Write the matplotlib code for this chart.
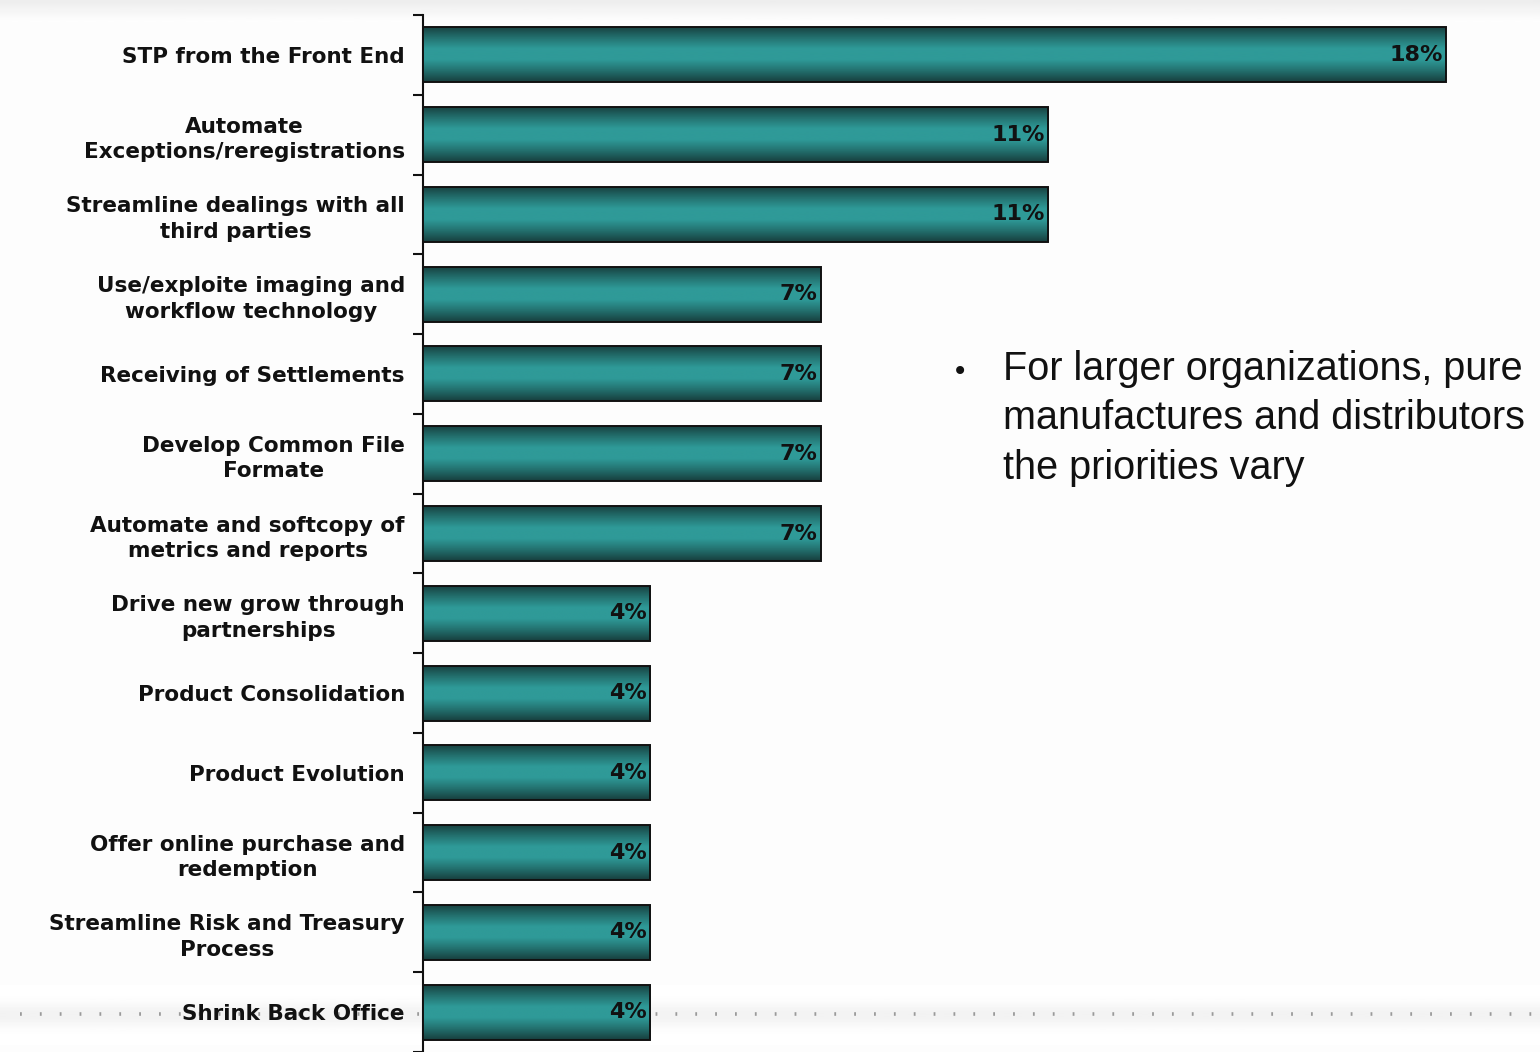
import matplotlib
matplotlib.use("Agg")
import matplotlib.pyplot as plt
import numpy as np
from matplotlib.colors import LinearSegmentedColormap

categories = [
    "STP from the Front End",
    "Automate\nExceptions/reregistrations",
    "Streamline dealings with all\nthird parties",
    "Use/exploite imaging and\nworkflow technology",
    "Receiving of Settlements",
    "Develop Common File\nFormate",
    "Automate and softcopy of\nmetrics and reports",
    "Drive new grow through\npartnerships",
    "Product Consolidation",
    "Product Evolution",
    "Offer online purchase and\nredemption",
    "Streamline Risk and Treasury\nProcess",
    "Shrink Back Office",
]
values = [18, 11, 11, 7, 7, 7, 7, 4, 4, 4, 4, 4, 4]
note = "For larger organizations, pure\nmanufactures and distributors\nthe priorities vary"

W, H = 1540, 1052
fig = plt.figure(figsize=(W / 100, H / 100), dpi=100)
fig.patch.set_facecolor("#fdfdfd")

# slide decorations: grey band on top, dotted rule at bottom
bg = fig.add_axes([0, 0, 1, 1], zorder=-5)
bg.axis("off")
top = np.linspace(0.93, 0.995, 20).reshape(-1, 1)
bg.imshow(top, cmap="gray", vmin=0, vmax=1, extent=[0, W, 22, 0], aspect="auto")
band = 1 - 0.05 * np.exp(-np.linspace(-2.5, 2.5, 40) ** 2).reshape(-1, 1)
bg.imshow(band, cmap="gray", vmin=0, vmax=1, extent=[0, W, 1045, 985], aspect="auto")
bg.plot([20, W], [1014, 1014], color="#9a9a9a", lw=2.6, ls=(0, (0.5, 5.0)))
bg.set_xlim(0, W)
bg.set_ylim(H, 0)

ax = fig.add_axes([423 / W, 0, 1 - 423 / W, 1 - 15 / H])
ax.set_facecolor("none")
n = len(categories)
y = np.arange(n)
bars = ax.barh(y, values, height=0.69, color="#2a8c8a", edgecolor="#111111", lw=1.4, zorder=3)

cmap = LinearSegmentedColormap.from_list(
    "teal", ["#173f3e", "#23706e", "#2f9a98", "#2f9a98", "#23706e", "#173f3e"])
grad = np.linspace(0, 1, 100).reshape(-1, 1)
for b in bars:
    x0, y0 = b.get_x(), b.get_y()
    im = ax.imshow(grad, cmap=cmap, aspect="auto", zorder=3.5,
                   extent=[x0, x0 + b.get_width(), y0 + b.get_height(), y0])
    im.set_clip_path(b)
    b.set_facecolor("none")
    b.set_zorder(4)

for yi, v in zip(y, values):
    ax.text(v - 0.06, yi, f"{v}%", ha="right", va="center", fontsize=16,
            fontweight="bold", color="#111111", zorder=5)

ax.set_xlim(0, (W - 423) / 56.83)
ax.set_ylim(n - 0.5, -0.5)
ax.set_yticks(y)
ax.set_yticklabels(categories, fontsize=15.5, fontweight="bold", color="#111111",
                   multialignment="center", linespacing=1.35)
ax.tick_params(axis="y", which="major", length=0, pad=13)
ax.set_yticks(np.arange(n + 1) - 0.5, minor=True)
ax.tick_params(axis="y", which="minor", length=7, width=1.5, color="#111111")
ax.set_xticks([])
for s in ["top", "right", "bottom"]:
    ax.spines[s].set_visible(False)
ax.spines["left"].set_linewidth(1.5)
ax.spines["left"].set_color("#111111")

fig.text(960 / W, 1 - 372 / H, "\u2022", fontsize=20, ha="center", va="center", color="#111111")
fig.text(1003 / W, 1 - 350 / H, note, fontsize=28.5, ha="left", va="top", color="#111111",
         family="Liberation Sans", linespacing=1.38)

fig.savefig("out.png", dpi=100, facecolor=fig.get_facecolor())
